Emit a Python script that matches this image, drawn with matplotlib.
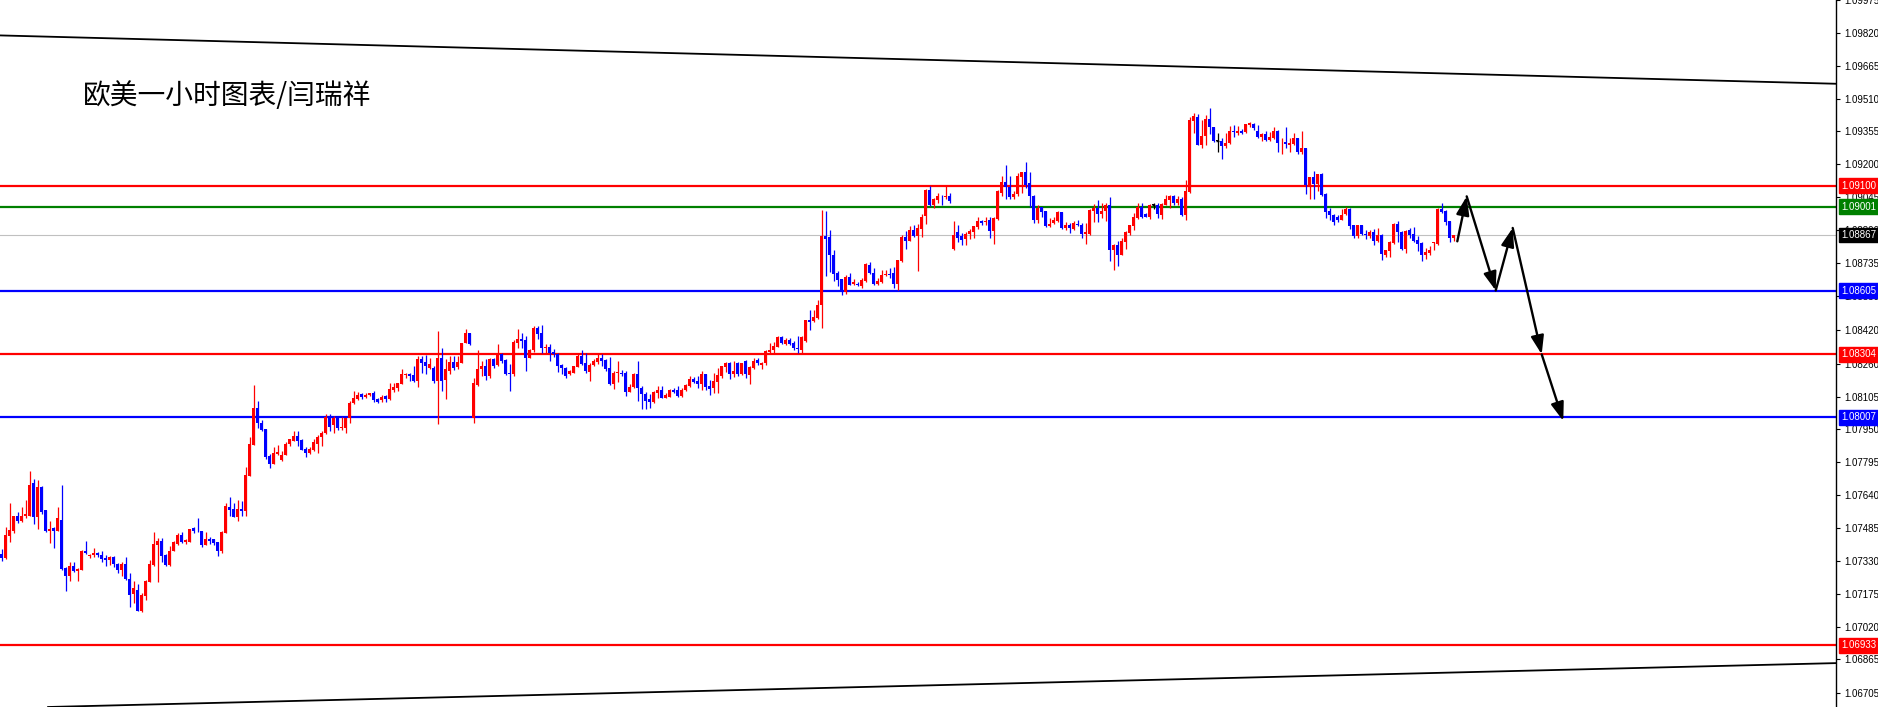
import matplotlib
matplotlib.use("Agg")
import matplotlib.pyplot as plt
import numpy as np
from matplotlib.transforms import blended_transform_factory

# EURUSD H1 candles (index 0 = leftmost bar)
OPEN = [
    1.07363, 1.07343, 1.07447, 1.07473, 1.07544, 1.07516, 1.07541, 1.07544, 1.07696, 1.07536,
    1.07677, 1.07568, 1.07473, 1.07484, 1.07470, 1.07525, 1.07297, 1.07261, 1.07308, 1.07282,
    1.07285, 1.07379, 1.07352, 1.07359, 1.07367, 1.07356, 1.07343, 1.07335, 1.07348, 1.07316,
    1.07288, 1.07316, 1.07243, 1.07172, 1.07195, 1.07096, 1.07164, 1.07230, 1.07312, 1.07403,
    1.07426, 1.07356, 1.07312, 1.07376, 1.07410, 1.07450, 1.07418, 1.07418, 1.07484, 1.07473,
    1.07473, 1.07407, 1.07432, 1.07431, 1.07418, 1.07375, 1.07461, 1.07585, 1.07574, 1.07539,
    1.07574, 1.07563, 1.07731, 1.07875, 1.08050, 1.07982, 1.07951, 1.07825, 1.07789, 1.07833,
    1.07806, 1.07830, 1.07880, 1.07896, 1.07919, 1.07901, 1.07860, 1.07841, 1.07854, 1.07883,
    1.07915, 1.07935, 1.08009, 1.07970, 1.08003, 1.07956, 1.07956, 1.08003, 1.08073, 1.08095,
    1.08116, 1.08105, 1.08111, 1.08120, 1.08092, 1.08089, 1.08108, 1.08092, 1.08136, 1.08147,
    1.08163, 1.08208, 1.08213, 1.08207, 1.08179, 1.08284, 1.08268, 1.08241, 1.08241, 1.08178,
    1.08288, 1.08181, 1.08225, 1.08269, 1.08244, 1.08265, 1.08359, 1.08403, 1.08006, 1.08159,
    1.08236, 1.08249, 1.08202, 1.08283, 1.08254, 1.08304, 1.08277, 1.08218, 1.08210, 1.08359,
    1.08375, 1.08371, 1.08288, 1.08324, 1.08430, 1.08403, 1.08335, 1.08338, 1.08316, 1.08304,
    1.08252, 1.08241, 1.08210, 1.08214, 1.08246, 1.08296, 1.08265, 1.08222, 1.08254, 1.08268,
    1.08285, 1.08277, 1.08241, 1.08163, 1.08214, 1.08218, 1.08214, 1.08127, 1.08150, 1.08213,
    1.08147, 1.08119, 1.08095, 1.08081, 1.08123, 1.08135, 1.08099, 1.08104, 1.08135, 1.08135,
    1.08107, 1.08135, 1.08154, 1.08190, 1.08178, 1.08162, 1.08209, 1.08154, 1.08143, 1.08175,
    1.08201, 1.08245, 1.08261, 1.08213, 1.08264, 1.08213, 1.08272, 1.08206, 1.08241, 1.08277,
    1.08256, 1.08261, 1.08316, 1.08324, 1.08339, 1.08386, 1.08355, 1.08371, 1.08358, 1.08336,
    1.08324, 1.08369, 1.08465, 1.08460, 1.08476, 1.08539, 1.08861, 1.08856, 1.08774, 1.08688,
    1.08660, 1.08598, 1.08669, 1.08636, 1.08638, 1.08625, 1.08649, 1.08727, 1.08688, 1.08636,
    1.08646, 1.08677, 1.08685, 1.08688, 1.08636, 1.08743, 1.08856, 1.08840, 1.08889, 1.08861,
    1.08897, 1.08955, 1.09080, 1.09007, 1.09030, 1.09053, 1.09044, 1.09052, 1.08801, 1.08879,
    1.08860, 1.08848, 1.08871, 1.08881, 1.08904, 1.08931, 1.08926, 1.08936, 1.08884, 1.08943,
    1.09067, 1.09119, 1.09093, 1.09045, 1.09060, 1.09140, 1.09162, 1.09111, 1.09053, 1.08936,
    1.08997, 1.08978, 1.08907, 1.08923, 1.08931, 1.08973, 1.08899, 1.08915, 1.08895, 1.08920,
    1.08912, 1.08871, 1.08871, 1.08981, 1.08994, 1.08965, 1.08978, 1.09009, 1.08794, 1.08821,
    1.08771, 1.08833, 1.08876, 1.08907, 1.08946, 1.08997, 1.08965, 1.08954, 1.09008, 1.09009,
    1.08962, 1.09009, 1.09030, 1.09052, 1.09017, 1.09036, 1.08962, 1.09069, 1.09405, 1.09425,
    1.09292, 1.09334, 1.09414, 1.09378, 1.09311, 1.09311, 1.09287, 1.09300, 1.09359, 1.09347,
    1.09359, 1.09352, 1.09386, 1.09391, 1.09359, 1.09328, 1.09342, 1.09316, 1.09323, 1.09359,
    1.09300, 1.09304, 1.09292, 1.09295, 1.09323, 1.09260, 1.09276, 1.09104, 1.09138, 1.09107,
    1.09154, 1.09061, 1.08978, 1.08959, 1.08954, 1.08939, 1.08965, 1.08990, 1.08912, 1.08860,
    1.08912, 1.08873, 1.08860, 1.08879, 1.08837, 1.08868, 1.08774, 1.08793, 1.08829, 1.08920,
    1.08879, 1.08801, 1.08892, 1.08871, 1.08841, 1.08829, 1.08774, 1.08782, 1.08829, 1.08824,
    1.08989, 1.08978, 1.08931, 1.08852,
]
HIGH = [
    1.07387, 1.07492, 1.07605, 1.07544, 1.07560, 1.07583, 1.07615, 1.07756, 1.07717, 1.07712,
    1.07681, 1.07568, 1.07516, 1.07492, 1.07586, 1.07690, 1.07301, 1.07324, 1.07324, 1.07297,
    1.07382, 1.07422, 1.07363, 1.07392, 1.07370, 1.07379, 1.07356, 1.07352, 1.07351, 1.07319,
    1.07323, 1.07348, 1.07274, 1.07235, 1.07219, 1.07178, 1.07238, 1.07332, 1.07465, 1.07437,
    1.07439, 1.07363, 1.07398, 1.07426, 1.07461, 1.07465, 1.07432, 1.07481, 1.07489, 1.07533,
    1.07473, 1.07465, 1.07445, 1.07434, 1.07418, 1.07472, 1.07605, 1.07629, 1.07605, 1.07618,
    1.07613, 1.07773, 1.07915, 1.08160, 1.08084, 1.07993, 1.07954, 1.07833, 1.07868, 1.07876,
    1.07849, 1.07891, 1.07907, 1.07943, 1.07943, 1.07907, 1.07865, 1.07865, 1.07904, 1.07923,
    1.07943, 1.08022, 1.08025, 1.08014, 1.08006, 1.08009, 1.08006, 1.08084, 1.08131, 1.08127,
    1.08124, 1.08120, 1.08120, 1.08131, 1.08097, 1.08111, 1.08111, 1.08171, 1.08171, 1.08171,
    1.08237, 1.08218, 1.08218, 1.08249, 1.08296, 1.08296, 1.08301, 1.08288, 1.08249, 1.08414,
    1.08335, 1.08280, 1.08296, 1.08296, 1.08296, 1.08359, 1.08422, 1.08406, 1.08194, 1.08323,
    1.08273, 1.08280, 1.08288, 1.08288, 1.08354, 1.08309, 1.08280, 1.08257, 1.08370, 1.08422,
    1.08406, 1.08390, 1.08327, 1.08437, 1.08437, 1.08442, 1.08351, 1.08351, 1.08327, 1.08312,
    1.08260, 1.08244, 1.08229, 1.08249, 1.08304, 1.08324, 1.08309, 1.08265, 1.08280, 1.08304,
    1.08304, 1.08280, 1.08291, 1.08225, 1.08273, 1.08229, 1.08225, 1.08166, 1.08218, 1.08273,
    1.08155, 1.08128, 1.08119, 1.08131, 1.08155, 1.08154, 1.08120, 1.08142, 1.08146, 1.08157,
    1.08146, 1.08162, 1.08201, 1.08198, 1.08201, 1.08225, 1.08213, 1.08181, 1.08217, 1.08241,
    1.08251, 1.08269, 1.08269, 1.08272, 1.08269, 1.08264, 1.08275, 1.08248, 1.08285, 1.08288,
    1.08269, 1.08324, 1.08358, 1.08361, 1.08390, 1.08390, 1.08382, 1.08379, 1.08366, 1.08390,
    1.08390, 1.08468, 1.08515, 1.08515, 1.08562, 1.08986, 1.08982, 1.08889, 1.08798, 1.08696,
    1.08661, 1.08680, 1.08688, 1.08660, 1.08644, 1.08666, 1.08735, 1.08738, 1.08711, 1.08664,
    1.08701, 1.08701, 1.08711, 1.08715, 1.08751, 1.08865, 1.08884, 1.08908, 1.08913, 1.08919,
    1.08966, 1.09084, 1.09099, 1.09041, 1.09065, 1.09056, 1.09096, 1.09067, 1.08931, 1.08915,
    1.08876, 1.08879, 1.08895, 1.08907, 1.08950, 1.08939, 1.08950, 1.08950, 1.08954, 1.09080,
    1.09143, 1.09195, 1.09143, 1.09075, 1.09158, 1.09166, 1.09213, 1.09162, 1.09056, 1.09009,
    1.09001, 1.08981, 1.08946, 1.08950, 1.08978, 1.08973, 1.08928, 1.08923, 1.08931, 1.08936,
    1.08923, 1.08923, 1.08989, 1.09014, 1.09030, 1.09020, 1.09020, 1.09044, 1.08824, 1.08837,
    1.08852, 1.08884, 1.08915, 1.08970, 1.09020, 1.09017, 1.08970, 1.09012, 1.09020, 1.09020,
    1.09017, 1.09056, 1.09056, 1.09056, 1.09052, 1.09044, 1.09124, 1.09425, 1.09441, 1.09436,
    1.09410, 1.09433, 1.09468, 1.09378, 1.09350, 1.09323, 1.09350, 1.09381, 1.09386, 1.09383,
    1.09366, 1.09389, 1.09402, 1.09397, 1.09386, 1.09347, 1.09358, 1.09352, 1.09374, 1.09363,
    1.09326, 1.09378, 1.09323, 1.09350, 1.09326, 1.09359, 1.09279, 1.09138, 1.09169, 1.09154,
    1.09157, 1.09064, 1.08994, 1.08965, 1.08962, 1.08990, 1.08997, 1.08994, 1.08915, 1.08912,
    1.08915, 1.08892, 1.08892, 1.08896, 1.08899, 1.08871, 1.08797, 1.08837, 1.08923, 1.08931,
    1.08884, 1.08892, 1.08899, 1.08903, 1.08860, 1.08833, 1.08805, 1.08813, 1.08833, 1.08994,
    1.09016, 1.08986, 1.08934, 1.08868,
]
LOW = [
    1.07329, 1.07337, 1.07418, 1.07461, 1.07508, 1.07513, 1.07533, 1.07544, 1.07505, 1.07481,
    1.07552, 1.07465, 1.07414, 1.07390, 1.07470, 1.07285, 1.07188, 1.07235, 1.07277, 1.07235,
    1.07285, 1.07363, 1.07343, 1.07348, 1.07348, 1.07324, 1.07308, 1.07310, 1.07301, 1.07272,
    1.07258, 1.07241, 1.07112, 1.07131, 1.07096, 1.07089, 1.07144, 1.07230, 1.07308, 1.07230,
    1.07324, 1.07308, 1.07308, 1.07376, 1.07407, 1.07414, 1.07410, 1.07418, 1.07461, 1.07465,
    1.07395, 1.07407, 1.07410, 1.07407, 1.07351, 1.07365, 1.07461, 1.07543, 1.07535, 1.07516,
    1.07543, 1.07541, 1.07731, 1.07875, 1.07959, 1.07943, 1.07810, 1.07770, 1.07786, 1.07830,
    1.07802, 1.07828, 1.07872, 1.07896, 1.07872, 1.07854, 1.07821, 1.07836, 1.07846, 1.07841,
    1.07872, 1.07927, 1.07943, 1.07932, 1.07948, 1.07948, 1.07935, 1.07982, 1.08069, 1.08087,
    1.08092, 1.08100, 1.08108, 1.08080, 1.08076, 1.08080, 1.08080, 1.08089, 1.08128, 1.08131,
    1.08163, 1.08191, 1.08179, 1.08175, 1.08150, 1.08218, 1.08210, 1.08233, 1.08171, 1.07974,
    1.08131, 1.08092, 1.08210, 1.08229, 1.08233, 1.08265, 1.08356, 1.08348, 1.07982, 1.08155,
    1.08202, 1.08181, 1.08194, 1.08241, 1.08249, 1.08265, 1.08207, 1.08131, 1.08202, 1.08335,
    1.08335, 1.08225, 1.08288, 1.08316, 1.08375, 1.08312, 1.08307, 1.08273, 1.08291, 1.08222,
    1.08210, 1.08194, 1.08205, 1.08214, 1.08246, 1.08254, 1.08214, 1.08178, 1.08249, 1.08260,
    1.08249, 1.08225, 1.08159, 1.08142, 1.08175, 1.08202, 1.08108, 1.08127, 1.08144, 1.08084,
    1.08045, 1.08048, 1.08053, 1.08075, 1.08100, 1.08096, 1.08096, 1.08102, 1.08123, 1.08104,
    1.08104, 1.08131, 1.08149, 1.08167, 1.08146, 1.08138, 1.08134, 1.08110, 1.08123, 1.08123,
    1.08193, 1.08222, 1.08189, 1.08198, 1.08201, 1.08206, 1.08193, 1.08162, 1.08233, 1.08256,
    1.08237, 1.08256, 1.08311, 1.08306, 1.08339, 1.08353, 1.08347, 1.08347, 1.08324, 1.08311,
    1.08311, 1.08363, 1.08421, 1.08457, 1.08473, 1.08426, 1.08672, 1.08693, 1.08649, 1.08625,
    1.08583, 1.08589, 1.08630, 1.08633, 1.08625, 1.08617, 1.08646, 1.08685, 1.08633, 1.08633,
    1.08641, 1.08672, 1.08664, 1.08617, 1.08609, 1.08738, 1.08801, 1.08837, 1.08858, 1.08699,
    1.08856, 1.08919, 1.09002, 1.08994, 1.09018, 1.09006, 1.09038, 1.09017, 1.08794, 1.08832,
    1.08818, 1.08821, 1.08848, 1.08852, 1.08895, 1.08915, 1.08912, 1.08852, 1.08824, 1.08939,
    1.09052, 1.09038, 1.09038, 1.09036, 1.09052, 1.09064, 1.09088, 1.09001, 1.08923, 1.08923,
    1.08950, 1.08903, 1.08903, 1.08918, 1.08928, 1.08895, 1.08892, 1.08876, 1.08892, 1.08907,
    1.08855, 1.08824, 1.08868, 1.08928, 1.08928, 1.08946, 1.08934, 1.08746, 1.08703, 1.08722,
    1.08771, 1.08801, 1.08868, 1.08892, 1.08943, 1.08946, 1.08950, 1.08942, 1.08990, 1.08946,
    1.08942, 1.09006, 1.08994, 1.09009, 1.09006, 1.08957, 1.08936, 1.09064, 1.09347, 1.09289,
    1.09276, 1.09292, 1.09342, 1.09304, 1.09260, 1.09224, 1.09276, 1.09295, 1.09331, 1.09339,
    1.09344, 1.09350, 1.09378, 1.09363, 1.09326, 1.09311, 1.09311, 1.09308, 1.09320, 1.09260,
    1.09248, 1.09279, 1.09257, 1.09292, 1.09248, 1.09250, 1.09060, 1.09036, 1.09036, 1.09072,
    1.09053, 1.08946, 1.08936, 1.08912, 1.08928, 1.08936, 1.08962, 1.08895, 1.08852, 1.08855,
    1.08865, 1.08849, 1.08852, 1.08818, 1.08832, 1.08750, 1.08761, 1.08761, 1.08824, 1.08833,
    1.08797, 1.08782, 1.08852, 1.08832, 1.08793, 1.08746, 1.08755, 1.08774, 1.08794, 1.08821,
    1.08970, 1.08915, 1.08833, 1.08837,
]
CLOSE = [
    1.07343, 1.07450, 1.07478, 1.07544, 1.07516, 1.07544, 1.07549, 1.07690, 1.07536, 1.07677,
    1.07560, 1.07473, 1.07481, 1.07469, 1.07533, 1.07293, 1.07258, 1.07308, 1.07280, 1.07293,
    1.07379, 1.07368, 1.07360, 1.07365, 1.07356, 1.07337, 1.07335, 1.07346, 1.07316, 1.07288,
    1.07313, 1.07246, 1.07167, 1.07200, 1.07096, 1.07167, 1.07233, 1.07313, 1.07410, 1.07426,
    1.07352, 1.07312, 1.07379, 1.07418, 1.07454, 1.07418, 1.07429, 1.07481, 1.07469, 1.07469,
    1.07407, 1.07431, 1.07423, 1.07414, 1.07376, 1.07464, 1.07590, 1.07571, 1.07539, 1.07574,
    1.07566, 1.07736, 1.07880, 1.08050, 1.07978, 1.07948, 1.07822, 1.07789, 1.07838, 1.07844,
    1.07830, 1.07883, 1.07904, 1.07919, 1.07896, 1.07854, 1.07841, 1.07860, 1.07891, 1.07915,
    1.07935, 1.08009, 1.07962, 1.08003, 1.07956, 1.07962, 1.08003, 1.08076, 1.08100, 1.08111,
    1.08105, 1.08114, 1.08120, 1.08089, 1.08080, 1.08105, 1.08092, 1.08139, 1.08152, 1.08168,
    1.08213, 1.08213, 1.08204, 1.08179, 1.08284, 1.08262, 1.08249, 1.08257, 1.08179, 1.08288,
    1.08178, 1.08233, 1.08269, 1.08241, 1.08269, 1.08359, 1.08403, 1.08351, 1.08170, 1.08236,
    1.08249, 1.08202, 1.08283, 1.08249, 1.08304, 1.08273, 1.08213, 1.08210, 1.08362, 1.08375,
    1.08367, 1.08288, 1.08324, 1.08430, 1.08398, 1.08335, 1.08338, 1.08312, 1.08304, 1.08249,
    1.08241, 1.08202, 1.08225, 1.08249, 1.08296, 1.08260, 1.08225, 1.08254, 1.08273, 1.08285,
    1.08273, 1.08236, 1.08163, 1.08218, 1.08221, 1.08213, 1.08128, 1.08150, 1.08213, 1.08147,
    1.08116, 1.08084, 1.08081, 1.08127, 1.08136, 1.08099, 1.08112, 1.08135, 1.08127, 1.08107,
    1.08135, 1.08159, 1.08190, 1.08175, 1.08165, 1.08209, 1.08151, 1.08142, 1.08178, 1.08206,
    1.08248, 1.08264, 1.08213, 1.08225, 1.08213, 1.08261, 1.08209, 1.08244, 1.08272, 1.08264,
    1.08261, 1.08322, 1.08324, 1.08343, 1.08386, 1.08358, 1.08371, 1.08353, 1.08332, 1.08328,
    1.08385, 1.08465, 1.08457, 1.08481, 1.08539, 1.08861, 1.08850, 1.08774, 1.08683, 1.08653,
    1.08598, 1.08669, 1.08633, 1.08644, 1.08633, 1.08653, 1.08732, 1.08688, 1.08636, 1.08649,
    1.08677, 1.08685, 1.08680, 1.08636, 1.08748, 1.08856, 1.08840, 1.08892, 1.08861, 1.08900,
    1.08950, 1.09080, 1.09007, 1.09036, 1.09052, 1.09049, 1.09052, 1.09025, 1.08868, 1.08855,
    1.08841, 1.08873, 1.08888, 1.08907, 1.08931, 1.08923, 1.08931, 1.08884, 1.08946, 1.09072,
    1.09119, 1.09091, 1.09044, 1.09061, 1.09143, 1.09162, 1.09104, 1.09049, 1.08936, 1.08994,
    1.08975, 1.08907, 1.08920, 1.08936, 1.08973, 1.08899, 1.08915, 1.08899, 1.08923, 1.08912,
    1.08871, 1.08879, 1.08983, 1.08994, 1.08965, 1.08978, 1.09009, 1.08794, 1.08821, 1.08771,
    1.08837, 1.08879, 1.08912, 1.08950, 1.08997, 1.08954, 1.08954, 1.09009, 1.09008, 1.08965,
    1.09012, 1.09036, 1.09052, 1.09017, 1.09038, 1.08962, 1.09072, 1.09407, 1.09430, 1.09292,
    1.09336, 1.09414, 1.09375, 1.09312, 1.09311, 1.09287, 1.09303, 1.09359, 1.09352, 1.09359,
    1.09347, 1.09389, 1.09394, 1.09370, 1.09328, 1.09342, 1.09316, 1.09328, 1.09359, 1.09300,
    1.09303, 1.09295, 1.09300, 1.09323, 1.09260, 1.09276, 1.09104, 1.09138, 1.09107, 1.09154,
    1.09056, 1.08975, 1.08959, 1.08928, 1.08936, 1.08962, 1.08990, 1.08910, 1.08860, 1.08912,
    1.08871, 1.08865, 1.08879, 1.08840, 1.08868, 1.08777, 1.08794, 1.08832, 1.08920, 1.08879,
    1.08801, 1.08888, 1.08868, 1.08840, 1.08824, 1.08774, 1.08785, 1.08797, 1.08832, 1.08989,
    1.08975, 1.08928, 1.08852, 1.08868,
]

# horizontal levels drawn on the chart
LEVELS = [1.09100, 1.09001, 1.08605, 1.08304, 1.08007, 1.06933]
LEVEL_COLORS = ["#ff0000", "#008000", "#0000ff", "#ff0000", "#0000ff", "#ff0000"]
BID = 1.08867

# channel lines: (bar index, price) pairs
CHANNEL_TOP = [(-0.4, 1.09808), (458.6, 1.09580)]
CHANNEL_BOT = [(11.6, 1.06641), (458.6, 1.06848)]

# projected zig-zag after the last bar
PATH_X = [363.9, 366.25, 373.5, 377.75, 385.0, 390.4]
PATH_Y = [1.08837, 1.09049, 1.08605, 1.08900, 1.08304, 1.07990]

Y_TICKS = [1.09975, 1.09820, 1.09665, 1.09510, 1.09355, 1.09200, 1.09045, 1.08890,
           1.08735, 1.08580, 1.08420, 1.08260, 1.08105, 1.07950, 1.07795, 1.07640,
           1.07485, 1.07330, 1.07175, 1.07020, 1.06865, 1.06705]

TITLE = "欧美一小时图表/闫瑞祥"

W, H, DPI = 1878, 707, 100
PLOT_W = 1836
SCALE_FONT = dict(family="Liberation Sans", size=7)

fig = plt.figure(figsize=(W / DPI, H / DPI), dpi=DPI)
fig.patch.set_facecolor("white")
ax = fig.add_axes([0, 0, PLOT_W / W, 1])
ax.set_xlim(-0.425, 458.575)
ax.set_ylim(1.06641, 1.09966)

o = np.array(OPEN)
h = np.array(HIGH)
l = np.array(LOW)
c = np.array(CLOSE)
assert len(o) == len(h) == len(l) == len(c)
x = np.arange(len(o))

cols = np.where(c > o, "#ff0000", np.where(c < o, "#0000ff", "#000000"))

# wicks and bodies
ax.vlines(x, l, h, colors=cols, lw=0.9, zorder=3)
body_h = np.maximum(np.abs(c - o), 0.00003)
ax.bar(x, body_h, bottom=np.minimum(o, c), width=0.74, color=cols, lw=0, zorder=4)
dj = c == o
ax.hlines(o[dj], x[dj] - 0.38, x[dj] + 0.38, colors="k", lw=1.0, zorder=5)

# levels
for lev, col in zip(LEVELS, LEVEL_COLORS):
    ax.axhline(lev, color=col, lw=1.6, zorder=2)
ax.axhline(BID, color="#c0c0c0", lw=0.8, zorder=1)

# channel
ax.axline(CHANNEL_TOP[0], CHANNEL_TOP[1], color="k", lw=1.3, zorder=2)
ax.axline(CHANNEL_BOT[0], CHANNEL_BOT[1], color="k", lw=1.3, zorder=2)

# projection arrows
for i in range(len(PATH_X) - 1):
    ax.annotate("", xy=(PATH_X[i + 1], PATH_Y[i + 1]), xytext=(PATH_X[i], PATH_Y[i]),
                arrowprops=dict(arrowstyle="-|>,head_length=0.8,head_width=0.28",
                                color="k", lw=1.7, shrinkA=0, shrinkB=0,
                                mutation_scale=14),
                zorder=6)

# axis look
for s in ["top", "left", "bottom"]:
    ax.spines[s].set_visible(False)
ax.spines["right"].set_color("black")
ax.spines["right"].set_linewidth(1.0)
ax.set_xticks([])
ax.yaxis.tick_right()
ax.set_yticks(Y_TICKS)
ax.set_yticklabels([f"{v:.5f}" for v in Y_TICKS], fontdict=SCALE_FONT)
ax.tick_params(axis="y", direction="out", length=3, width=0.8, pad=3, colors="black")

# price boxes on the scale
trans = blended_transform_factory(ax.transAxes, ax.transData)
for lev, col in zip(LEVELS + [BID], LEVEL_COLORS + ["#000000"]):
    ax.text(1.0 + 5 / PLOT_W, lev, f"{lev:.5f}", transform=trans, color="white",
            va="center", ha="left", clip_on=False, zorder=10, fontdict=SCALE_FONT,
            bbox=dict(boxstyle="square,pad=0.25", fc=col, ec=col))

fig.text(83 / W, 1 - 96 / H, TITLE, fontsize=20, va="center", ha="left",
         family=["Noto Sans CJK SC", "DejaVu Sans"], color="black")

fig.savefig("out.png", dpi=DPI, facecolor="white")
